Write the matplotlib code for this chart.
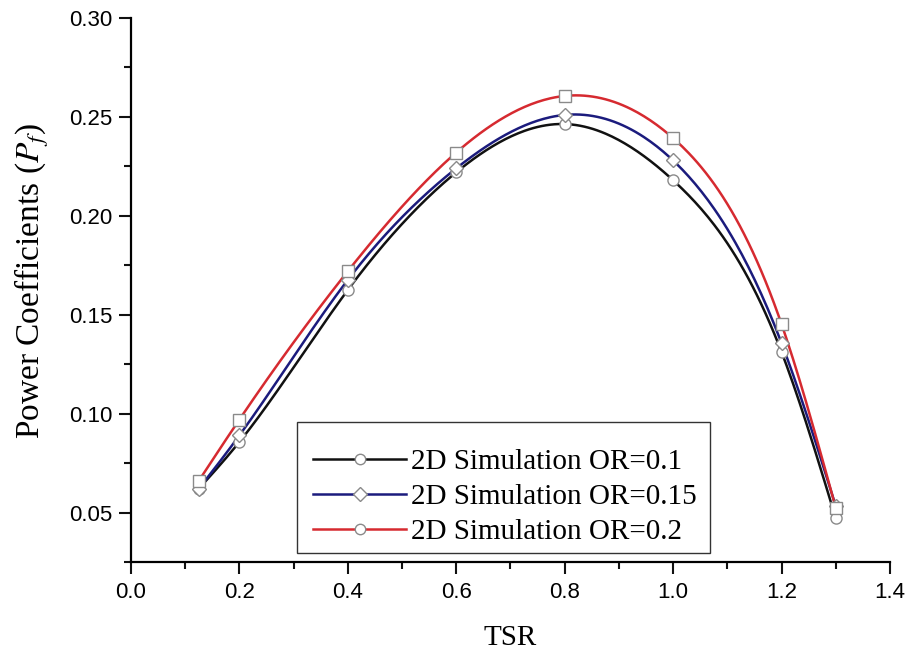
import matplotlib
matplotlib.use("agg")
import matplotlib.pyplot as plt
from matplotlib.lines import Line2D
from matplotlib.patches import Rectangle
from matplotlib.ticker import MultipleLocator
import numpy as np

plt.rcParams["font.family"] = "Liberation Serif"
plt.rcParams["mathtext.fontset"] = "stix"

# TSR values and power coefficients
tsr = [0.125, 0.2, 0.4, 0.6, 0.8, 1.0, 1.2, 1.3]
pf_or01 = [0.062, 0.0857, 0.1625, 0.222, 0.2464, 0.218, 0.1312, 0.0472]
pf_or015 = [0.062, 0.0890, 0.1676, 0.224, 0.2510, 0.228, 0.1357, 0.0533]
pf_or02 = [0.066, 0.0970, 0.1720, 0.232, 0.2606, 0.2393, 0.1453, 0.0525]

labels = ["2D Simulation OR=0.1", "2D Simulation OR=0.15", "2D Simulation OR=0.2"]
colors = ["#111111", "#1b1b7d", "#d62a30"]
markers = ["o", "D", "s"]
legend_markers = ["o", "D", "o"]


def natural_spline(x, y, n=300):
    x = np.asarray(x, float); y = np.asarray(y, float)
    k = len(x); h = np.diff(x)
    A = np.zeros((k, k)); b = np.zeros(k)
    A[0, 0] = A[-1, -1] = 1
    for i in range(1, k - 1):
        A[i, i - 1] = h[i - 1]; A[i, i] = 2 * (h[i - 1] + h[i]); A[i, i + 1] = h[i]
        b[i] = 6 * ((y[i + 1] - y[i]) / h[i] - (y[i] - y[i - 1]) / h[i - 1])
    M = np.linalg.solve(A, b)
    xs = np.linspace(x[0], x[-1], n)
    j = np.clip(np.searchsorted(x, xs) - 1, 0, k - 2)
    t0 = x[j + 1] - xs; t1 = xs - x[j]; hj = h[j]
    ys = (M[j] * t0**3 + M[j + 1] * t1**3) / (6 * hj) \
        + (y[j] / hj - M[j] * hj / 6) * t0 + (y[j + 1] / hj - M[j + 1] * hj / 6) * t1
    return xs, ys


fig = plt.figure(figsize=(9.12, 6.55), dpi=100)
ax = fig.add_axes([0.1436, 0.142, 0.8322, 0.8305])

for ys, c, m in zip([pf_or01, pf_or015, pf_or02], colors, markers):
    sx, sy = natural_spline(tsr, ys)
    ax.plot(sx, sy, color=c, lw=1.8, zorder=2)
    ax.plot(tsr, ys, ls="none", marker=m, ms=8 if m != "D" else 7.5,
            mfc="white", mec="#8a8a8a", mew=1.0, zorder=3)

ax.set_xlim(0, 1.4)
ax.set_ylim(0.025, 0.30)
ax.xaxis.set_major_locator(MultipleLocator(0.2))
ax.xaxis.set_minor_locator(MultipleLocator(0.1))
ax.yaxis.set_major_locator(MultipleLocator(0.05))
ax.yaxis.set_minor_locator(MultipleLocator(0.025))
ax.set_xticklabels([f"{v:.1f}" for v in ax.get_xticks()], family="Liberation Sans", fontsize=16)
ax.set_yticklabels([f"{v:.2f}" for v in ax.get_yticks()], family="Liberation Sans", fontsize=16)
ax.tick_params(which="major", direction="out", length=8.5, width=1.5, color="#111111")
ax.tick_params(which="minor", direction="out", length=5, width=1.5, color="#111111")
ax.tick_params(axis="x", which="major", pad=6)
ax.tick_params(axis="y", which="major", pad=5)
for s in ["top", "right"]:
    ax.spines[s].set_visible(False)
for s in ["left", "bottom"]:
    ax.spines[s].set_linewidth(1.6)

ax.set_xlabel("TSR", fontsize=21, labelpad=16)
ax.set_ylabel("Power Coefficients ($P_f$)", fontsize=24)
ax.yaxis.set_label_coords(-0.105, 0.5165)

# legend: frame drawn as a box, entries placed inside it
ax.add_patch(Rectangle((0.2187, 0.0165), 0.5441, 0.2409, transform=ax.transAxes,
                       fill=True, facecolor="white", edgecolor="#333333", lw=1.0, zorder=4))
handles = [Line2D([], [], color=c, lw=1.8, marker=m, ms=7.5, mfc="white", mec="#8a8a8a", mew=1.0)
           for c, m in zip(colors, legend_markers)]
leg = ax.legend(handles, labels, loc="center left", bbox_to_anchor=(0.2398, 0.1195),
                fontsize=21, frameon=False, handlelength=3.2, borderpad=0, borderaxespad=0,
                labelspacing=0.3, handletextpad=0.15)
leg.set_zorder(5)

fig.savefig("out.png", dpi=100)
